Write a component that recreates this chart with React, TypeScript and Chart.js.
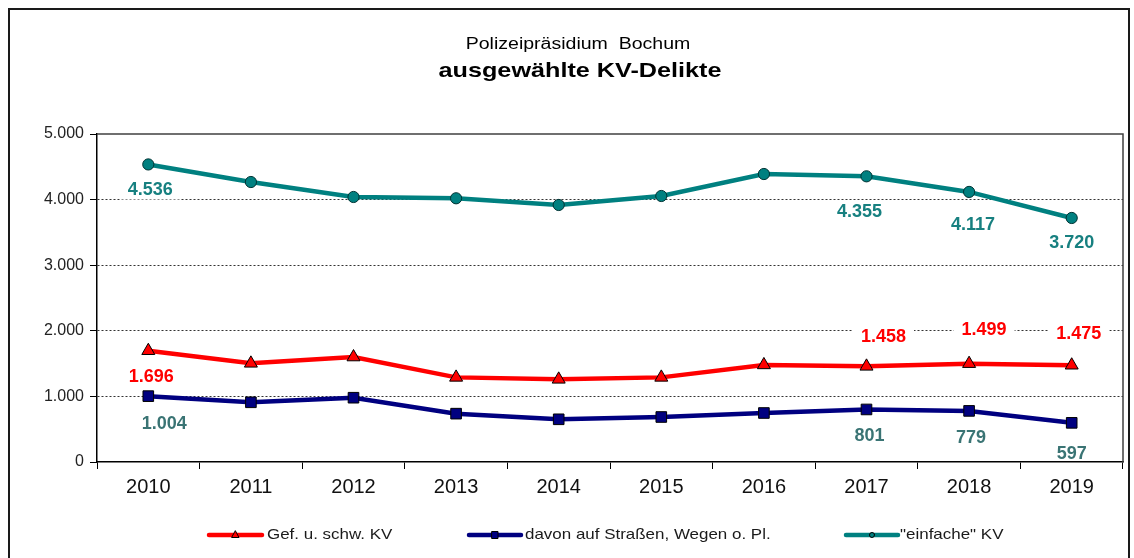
import React, { useEffect, useRef } from 'react';
import { Chart, registerables } from 'chart.js';

Chart.register(...registerables);

// ---------- data ----------
const years = ['2010', '2011', '2012', '2013', '2014', '2015', '2016', '2017', '2018', '2019'];
const gefSchwKV = [1696, 1504, 1600, 1290, 1260, 1290, 1480, 1458, 1499, 1475];
const davonStrassen = [1004, 910, 980, 737, 651, 686, 747, 801, 779, 597];
const einfacheKV = [4536, 4268, 4040, 4020, 3918, 4055, 4390, 4355, 4117, 3720];
const seriesNames = ['Gef. u. schw. KV', 'davon auf Straßen, Wegen o. Pl.', '"einfache" KV'];
const labeledIndices = [0, 7, 8, 9];
const yMin = 0;
const yMax = 5000;
const yStep = 1000;
const titleLine1 = 'Polizeipräsidium  Bochum';
const titleLine2 = 'ausgewählte KV-Delikte';

// ---------- styles ----------
const FONT = '"Liberation Sans", Arial, Helvetica, sans-serif';
const RED = '#ff0000';
const NAVY = '#000080';
const TEAL = '#008080';

const fmt = (v: number) => {
  const s = String(Math.round(v));
  return s.replace(/\B(?=(\d{3})+(?!\d))/g, '.');
};

// label offsets (dx, dy) relative to the data point, per dataset
const labelStyle = [
  { color: '#ff0000', offsets: [[3, 25], [17, -30], [15, -35], [7, -32]] },
  { color: '#3a7474', offsets: [[16, 27], [3, 26], [2, 26], [0, 30]] },
  { color: '#178080', offsets: [[2, 25], [-7, 35], [4, 32], [0, 24]] },
];

function stretchedText(ctx: CanvasRenderingContext2D, text: string, x: number, y: number, sx: number, align: CanvasTextAlign) {
  ctx.save();
  ctx.translate(x, y);
  ctx.scale(sx, 1);
  ctx.textAlign = align;
  ctx.fillText(text, 0, 0);
  ctx.restore();
}

const framePlugin = {
  id: 'frameAndTitle',
  beforeDraw(chart: any) {
    const ctx: CanvasRenderingContext2D = chart.ctx;
    ctx.save();
    ctx.fillStyle = '#ffffff';
    ctx.fillRect(0, 0, chart.width, chart.height);
    ctx.strokeStyle = '#1a1a1a';
    ctx.lineWidth = 2;
    ctx.strokeRect(9, 9, 1120, 620);
    ctx.fillStyle = '#000';
    ctx.textBaseline = 'middle';
    ctx.font = `16px ${FONT}`;
    stretchedText(ctx, titleLine1, 578, 45, 1.22, 'center');
    ctx.font = `bold 21px ${FONT}`;
    stretchedText(ctx, titleLine2, 580, 71, 1.2, 'center');
    ctx.restore();
  },
  afterDatasetsDraw(chart: any) {
    const ctx: CanvasRenderingContext2D = chart.ctx;
    const area = chart.chartArea;
    // plot frame top/right
    ctx.save();
    ctx.strokeStyle = '#404040';
    ctx.lineWidth = 1.5;
    ctx.beginPath();
    ctx.moveTo(area.left, area.top);
    ctx.lineTo(area.right, area.top);
    ctx.lineTo(area.right, area.bottom);
    ctx.stroke();
    ctx.restore();

    // value labels
    ctx.save();
    ctx.beginPath();
    ctx.rect(area.left + 1, area.top + 1, area.right - area.left - 2, area.bottom - area.top - 2);
    ctx.clip();
    ctx.font = `bold 18px ${FONT}`;
    ctx.textAlign = 'center';
    ctx.textBaseline = 'middle';
    chart.data.datasets.forEach((ds: any, di: number) => {
      const meta = chart.getDatasetMeta(di);
      const st = labelStyle[di];
      labeledIndices.forEach((idx, k) => {
        const pt = meta.data[idx];
        if (!pt) return;
        const [dx, dy] = st.offsets[k];
        const txt = fmt(ds.data[idx]);
        const x = pt.x + dx;
        const y = pt.y + dy;
        const w = ctx.measureText(txt).width + 16;
        ctx.fillStyle = '#ffffff';
        ctx.fillRect(x - w / 2, y - 10, w, 20);
        ctx.fillStyle = st.color;
        ctx.fillText(txt, x, y + 1);
      });
    });
    ctx.restore();
  },
  afterDraw(chart: any) {
    const ctx: CanvasRenderingContext2D = chart.ctx;
    const items = [
      { color: RED, marker: 'triangle', x1: 209, x2: 262, tx: 267 },
      { color: NAVY, marker: 'rect', x1: 469, x2: 521, tx: 525 },
      { color: TEAL, marker: 'circle', x1: 846, x2: 898, tx: 900 },
    ];
    const y = 535;
    ctx.save();
    items.forEach((it, i) => {
      ctx.strokeStyle = it.color;
      ctx.lineWidth = 4.5;
      ctx.lineCap = 'round';
      ctx.beginPath();
      ctx.moveTo(it.x1, y);
      ctx.lineTo(it.x2, y);
      ctx.stroke();
      const cx = (it.x1 + it.x2) / 2;
      ctx.fillStyle = it.color;
      ctx.strokeStyle = '#000';
      ctx.lineWidth = 1;
      ctx.beginPath();
      if (it.marker === 'triangle') {
        ctx.moveTo(cx, y - 4);
        ctx.lineTo(cx + 3.5, y + 2.5);
        ctx.lineTo(cx - 3.5, y + 2.5);
        ctx.closePath();
      } else if (it.marker === 'rect') {
        ctx.rect(cx - 3, y - 3.5, 6, 7);
      } else {
        ctx.arc(cx, y, 2.5, 0, Math.PI * 2);
      }
      ctx.fill();
      ctx.stroke();
      ctx.fillStyle = '#1a1a1a';
      ctx.font = `15px ${FONT}`;
      ctx.textBaseline = 'middle';
      stretchedText(ctx, seriesNames[i], it.tx, y, 1.13, 'left');
    });
    ctx.restore();
  },
};

export default function App() {
  const canvasRef = useRef<HTMLCanvasElement | null>(null);

  useEffect(() => {
    const canvas = canvasRef.current;
    if (!canvas) return;
    const chart = new Chart(canvas, {
      type: 'line',
      data: {
        labels: years,
        datasets: [
          {
            label: seriesNames[0],
            data: gefSchwKV,
            borderColor: RED,
            backgroundColor: RED,
            borderWidth: 4.5,
            pointStyle: 'triangle',
            pointRadius: 7.5,
            pointBackgroundColor: RED,
            pointBorderColor: '#000',
            pointBorderWidth: 1,
            tension: 0,
          },
          {
            label: seriesNames[1],
            data: davonStrassen,
            borderColor: NAVY,
            backgroundColor: NAVY,
            borderWidth: 4.5,
            pointStyle: 'rect',
            pointRadius: 7.5,
            pointBackgroundColor: NAVY,
            pointBorderColor: '#000',
            pointBorderWidth: 1,
            tension: 0,
          },
          {
            label: seriesNames[2],
            data: einfacheKV,
            borderColor: TEAL,
            backgroundColor: TEAL,
            borderWidth: 4.5,
            pointStyle: 'circle',
            pointRadius: 5.6,
            pointBackgroundColor: TEAL,
            pointBorderColor: '#003333',
            pointBorderWidth: 1,
            tension: 0,
          },
        ],
      },
      options: {
        responsive: false,
        animation: false,
        events: [],
        layout: { padding: { left: 30, top: 134, right: 11, bottom: 40 } },
        plugins: {
          legend: { display: false },
          title: { display: false },
          tooltip: { enabled: false },
        },
        scales: {
          x: {
            type: 'category',
            offset: true,
            grid: {
              display: true,
              offset: true,
              drawOnChartArea: false,
              drawTicks: true,
              tickLength: 7,
              tickColor: '#000',
              tickWidth: 1,
            },
            border: { display: true, color: '#000', width: 1.5 },
            ticks: {
              color: '#111',
              font: { family: FONT, size: 20 },
              padding: 6,
              maxRotation: 0,
              autoSkip: false,
            },
            afterFit: (s: any) => {
              s.height = 56;
            },
          },
          y: {
            min: yMin,
            max: yMax,
            ticks: {
              stepSize: yStep,
              color: '#222',
              font: { family: FONT, size: 16 },
              padding: 6,
              callback: (v: any) => fmt(Number(v)),
            },
            grid: {
              color: (c: any) =>
                c.tick && (c.tick.value === yMin || c.tick.value === yMax) ? 'rgba(0,0,0,0)' : '#333',
              lineWidth: 1,
              tickColor: '#000',
              tickLength: 7,
              tickWidth: 1,
              tickBorderDash: [],
            },
            border: { display: true, color: '#000', width: 1.5, dash: [2, 2] },
            afterFit: (s: any) => {
              s.width = 67;
            },
          },
        },
      },
      plugins: [framePlugin],
    } as any);
    return () => chart.destroy();
  }, []);

  return (
    <div style={{ position: 'absolute', left: 0, top: 0, width: 1134, height: 558 }}>
      <canvas ref={canvasRef} width={1134} height={558} style={{ display: 'block' }} />
    </div>
  );
}
